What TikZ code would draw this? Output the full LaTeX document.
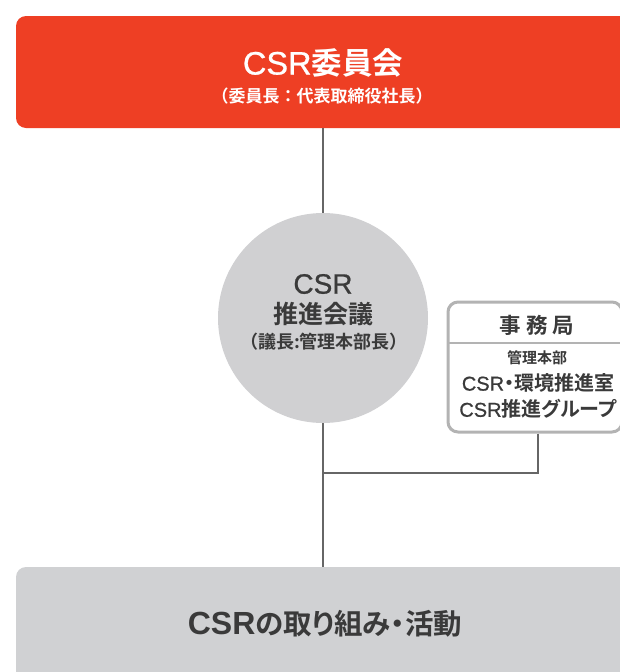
\documentclass[tikz,border=0pt]{standalone}
\usepackage{fontspec}
\setmainfont{Noto Sans CJK JP}
\newfontfamily\jpbold{Noto Sans CJK JP Bold}
\newfontfamily\jpboldp[RawFeature=+palt]{Noto Sans CJK JP Bold}
\newfontfamily\lat[FakeBold=0.8]{Liberation Sans}
\newfontfamily\latb{Liberation Sans Bold}
\newcommand\latsz[2]{{\lat\fontsize{#1}{#1}\selectfont #2}}
\newcommand\latbsz[2]{{\latb\fontsize{#1}{#1}\selectfont #2}}
\definecolor{csrred}{HTML}{EE3F24}
\definecolor{circgray}{HTML}{D0D0D2}
\definecolor{boxgray}{HTML}{D0D1D3}
\definecolor{txtdark}{HTML}{3A3A3A}
\definecolor{linegray}{HTML}{666666}
\definecolor{bordergray}{HTML}{B3B3B3}
\begin{document}
\begin{tikzpicture}[x=1pt,y=-1pt,
  conn/.style={draw=linegray,line width=1.4pt},
  txt/.style={inner sep=0pt,text=txtdark,align=center}]
\useasboundingbox (0,0) rectangle (620,672);
\clip (0,0) rectangle (620,672);
% top box
\fill[csrred,rounded corners=10pt] (16,16) rectangle (640,128);
\node[txt,text=white,font=\jpbold\fontsize{30.5}{32}\selectfont] (t1) at (323,63) {\latsz{32.5}{CSR}委員会};
\node[txt,text=white,font=\jpbold\fontsize{17}{19}\selectfont] (t2) at (322,96) {（委員長：代表取締役社長）};
\coordinate (topb) at (323,128);
% circle
\node[circle,fill=circgray,minimum size=210pt,inner sep=0pt] (circ) at (323,318) {};
\node[txt] (c1) at (323,284) {\latsz{28}{CSR}};
\node[txt,font=\jpbold\fontsize{25}{27}\selectfont] (c2) at (323,314) {推進会議};
\node[txt,font=\jpboldp\fontsize{18}{20}\selectfont] (c3) at (324,342) {（議長:管理本部長）};
% secretariat box
\draw[bordergray,line width=3pt,fill=white,rounded corners=10pt] (448,302) rectangle (622,432);
\draw[bordergray,line width=1.2pt] (448,343) -- (622,343);
\node[txt,font=\jpbold\fontsize{21.5}{24}\selectfont] (s1) at (537,325) {事\hspace{5pt}務\hspace{5pt}局};
\node[txt,font=\jpbold\fontsize{15}{16}\selectfont] (s2) at (537,358) {管理本部};
\node[txt,font=\jpboldp\fontsize{20}{22}\selectfont] (s3) at (538,383) {\latsz{20}{CSR}・環境推進室};
\node[txt,font=\jpboldp\fontsize{20}{22}\selectfont] (s4) at (538,409) {\latsz{20}{CSR}推進グループ};
\coordinate (secb) at (538,433.5);
\coordinate (elbow) at (538,473);
\coordinate (joint) at (323,473);
% bottom box
\fill[boxgray,rounded corners=10pt] (16,567) rectangle (640,700);
\node[txt,font=\jpboldp\fontsize{28.5}{30}\selectfont] (b1) at (325,624) {\latbsz{32}{CSR}の取り組み・活動};
\coordinate (botb) at (323,567);
% connectors
\draw[conn] (topb) -- (circ.north);
\draw[conn] (circ.south) -- (botb);
\draw[conn] (secb) -- (elbow) -- (joint);
\end{tikzpicture}
\end{document}
